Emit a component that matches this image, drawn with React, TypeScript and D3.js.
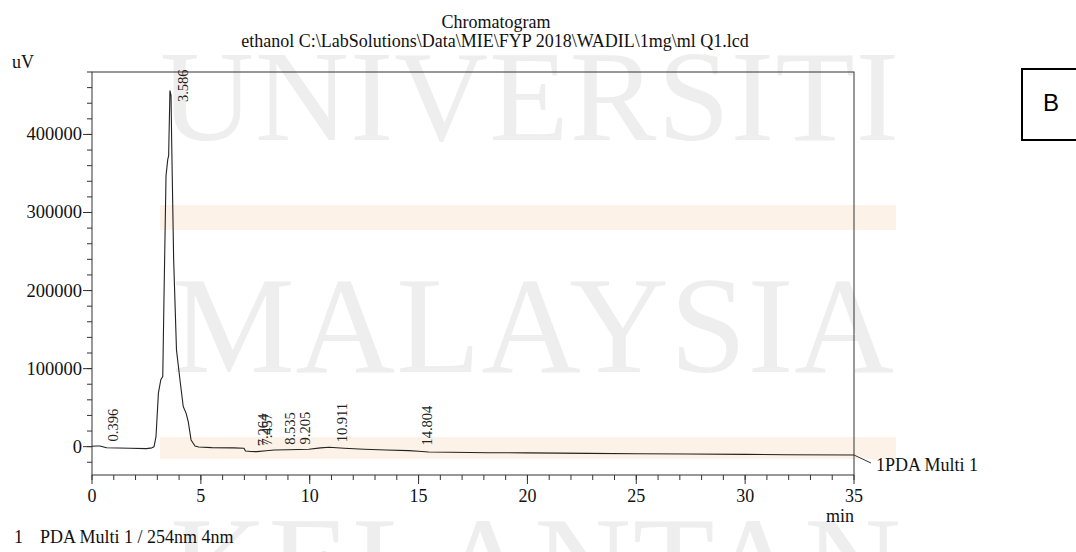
import React from "react";
import * as d3 from "d3";

// ---- data ----
const retentionTime: number[] = [
  0.0, 0.2, 0.37, 0.45, 0.67, 1.2, 1.75, 2.5, 2.75, 2.85, 2.94, 3.05, 3.16, 3.25, 3.31, 3.4, 3.48,
  3.52, 3.58, 3.63, 3.66, 3.75, 3.88, 4.04, 4.19, 4.32, 4.42, 4.55, 4.73, 4.9, 5.5, 6.5, 6.98, 7.05,
  7.3, 7.57, 8.0, 8.37, 9.0, 9.5, 9.96, 10.5, 10.9, 11.58, 12.5, 13.5, 14.55, 15.0, 15.46, 16.5,
  18.2, 20.0, 22.8, 25.0, 27.35, 30.0, 31.9, 35.0,
];
const signalUV: number[] = [
  500, 800, 900, 300, -1300, -1800, -2100, -2500, -1500, 0, 12800, 68600, 85700, 90000, 197000,
  347000, 368000, 372600, 456000, 450000, 390000, 240000, 124000, 85700, 51400, 43000, 32000, 8600,
  900, -500, -1200, -1600, -2000, -5500, -6200, -6400, -5200, -4300, -4000, -3700, -3400, -1500,
  -800, -2100, -3400, -4200, -5100, -5800, -6800, -7200, -7700, -8000, -8600, -9000, -9400, -9900,
  -10300, -10700,
];
const peakTimes: number[] = [0.396, 3.586, 7.264, 7.457, 8.535, 9.205, 10.911, 14.804];
const peakHeights: number[] = [300, 435000, -6000, -5000, -4000, -3500, -800, -5000];
const peakLabels: string[] = ["0.396", "3.586", "7.264", "7.457", "8.535", "9.205", "10.911", "14.804"];

const xMajorTicks: number[] = [0, 5, 10, 15, 20, 25, 30, 35];
const yMajorTicks: number[] = [0, 100000, 200000, 300000, 400000];

const titleLine1 = "Chromatogram";
const titleLine2 = "ethanol C:\\LabSolutions\\Data\\MIE\\FYP 2018\\WADIL\\1mg\\ml Q1.lcd";
const yUnit = "uV";
const xUnit = "min";
const traceName = "1PDA Multi 1";
const footerNum = "1";
const footerText = "PDA Multi 1 / 254nm 4nm";
const panelLetter = "B";
const watermarkWords: string[] = ["UNIVERSITI", "MALAYSIA", "KELANTAN"];

const SERIF = "'Liberation Serif', 'Times New Roman', serif";

export default function App() {
  const W = 1076;
  const H = 552;
  const left = 92, right = 854, top = 72, bottom = 475;
  const x = d3.scaleLinear().domain([0, 35]).range([left, right]);
  const y = d3.scaleLinear().domain([-36300, 480000]).range([bottom, top]);

  const pts: [number, number][] = retentionTime.map((t, i) => [t, signalUV[i]]);
  const line = d3
    .line<[number, number]>()
    .x((d) => x(d[0]))
    .y((d) => y(d[1]))
    .curve(d3.curveLinear);

  const xMinor = d3.range(0, 36, 1);
  const yMinor = d3.range(-20000, 480001, 20000);
  const lastY = y(signalUV[signalUV.length - 1]);

  const wm = [
    { word: watermarkWords[0], x0: 160, x1: 899, base: 140, size: 130 },
    { word: watermarkWords[1], x0: 172, x1: 894, base: 372, size: 138 },
    { word: watermarkWords[2], x0: 170, x1: 901, base: 609, size: 134 },
  ];

  return (
    <svg
      width={W}
      height={H}
      style={{ position: "absolute", left: 0, top: 0, background: "#fff" }}
      fontFamily={SERIF}
    >
      {/* watermark */}
      <g>
        <rect x={160} y={205} width={736} height={25} fill="#fdf2e8" />
        <rect x={160} y={437} width={736} height={22} fill="#fdf2e8" />
        {wm.map((w) => (
          <text
            key={w.word}
            x={w.x0}
            y={w.base}
            fontSize={w.size}
            fill="#eeeeee"
            textLength={w.x1 - w.x0}
            lengthAdjust="spacing"
          >
            {w.word}
          </text>
        ))}
      </g>

      {/* titles */}
      <text x={496} y={28} textAnchor="middle" fontSize={18} fill="#111">
        {titleLine1}
      </text>
      <text x={495} y={47} textAnchor="middle" fontSize={18} fill="#111">
        {titleLine2}
      </text>
      <text x={12} y={68} fontSize={18} fill="#111">
        {yUnit}
      </text>

      {/* frame */}
      <rect x={left} y={top} width={right - left} height={bottom - top} fill="none" stroke="#333" strokeWidth={1} />

      {/* y ticks */}
      {yMinor.map((v) => (
        <line key={"ym" + v} x1={left - 5} x2={left} y1={y(v)} y2={y(v)} stroke="#333" />
      ))}
      {yMajorTicks.map((v) => (
        <g key={"yM" + v}>
          <line x1={left - 9} x2={left} y1={y(v)} y2={y(v)} stroke="#333" />
          <text x={left - 10} y={y(v) + 6} textAnchor="end" fontSize={18.5} fill="#111">
            {String(v)}
          </text>
        </g>
      ))}

      {/* x ticks */}
      {xMinor.map((v) => (
        <line key={"xm" + v} x1={x(v)} x2={x(v)} y1={bottom} y2={bottom + 5} stroke="#333" />
      ))}
      {xMajorTicks.map((v) => (
        <g key={"xM" + v}>
          <line x1={x(v)} x2={x(v)} y1={bottom} y2={bottom + 9} stroke="#333" />
          <text x={x(v)} y={502} textAnchor="middle" fontSize={18} fill="#111">
            {String(v)}
          </text>
        </g>
      ))}
      <text x={right} y={522} textAnchor="end" fontSize={18} fill="#111">
        {xUnit}
      </text>

      {/* trace */}
      <path d={line(pts) || ""} fill="none" stroke="#222" strokeWidth={1.1} strokeLinejoin="round" />

      {/* peak labels */}
      {peakTimes.map((t, i) => (
        <text
          key={"pk" + i}
          transform={`translate(${x(t) + 17.5},${y(peakHeights[i]) - 5}) rotate(-90)`}
          fontSize={14.5}
          fill="#222"
        >
          {peakLabels[i]}
        </text>
      ))}

      {/* trace name */}
      <line x1={right} y1={lastY} x2={871} y2={lastY + 8} stroke="#333" />
      <text x={876} y={471} fontSize={18} fill="#111">
        {traceName}
      </text>

      {/* footer */}
      <text x={14} y={543} fontSize={18} fill="#111">
        {footerNum}
      </text>
      <text x={40} y={543} fontSize={18} fill="#111">
        {footerText}
      </text>

      {/* panel letter box */}
      <rect x={1022} y={69} width={60} height={71} fill="none" stroke="#000" strokeWidth={2} />
      <text x={1051} y={111} textAnchor="middle" fontSize={24} fontFamily="'Liberation Sans', Arial, sans-serif" fill="#000">
        {panelLetter}
      </text>
    </svg>
  );
}
